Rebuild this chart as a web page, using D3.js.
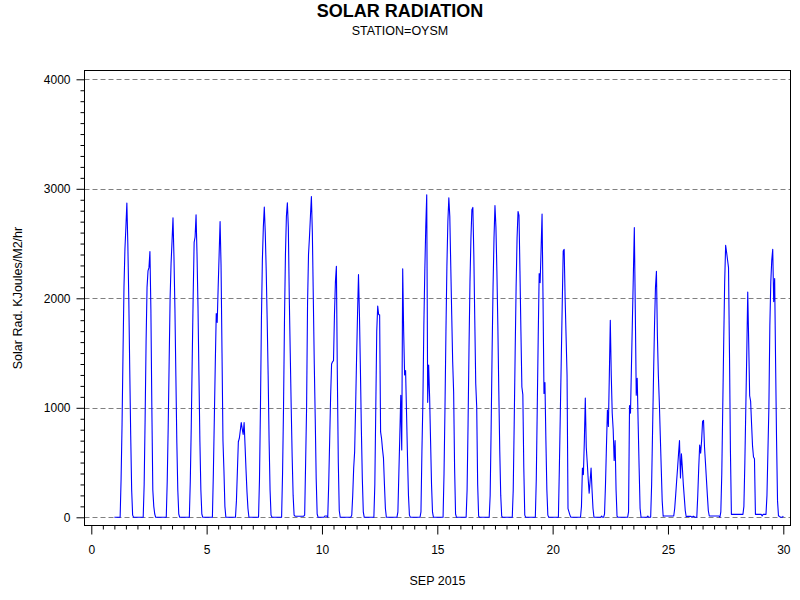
<!DOCTYPE html>
<html>
<head>
<meta charset="utf-8">
<script src="https://cdn.jsdelivr.net/npm/d3@7"></script>
<style>
  html, body { margin: 0; padding: 0; background: #fff; }
  svg { display: block; font-family: "Liberation Sans", Arial, sans-serif; }
</style>
</head>
<body>
<svg id="chart" width="800" height="600"></svg>
<script>
// ---- data (hourly values, hours 0..23 of each day; x = day + hour/24) ----
const dayNumbers = [1,2,3,4,5,6,7,8,9,10,11,12,13,14,15,16,17,18,19,20,21,22,23,24,25,26,27,28,29];
const hourlyRadiation = [
  [0,0,0,0,0,0,0,350,850,1500,2100,2450,2650,2870,2500,2000,1350,750,250,20,0,0,0,0],
  [0,0,0,0,0,0,0,300,900,1600,2100,2250,2280,2428,1900,1000,250,100,30,0,0,0,0,0],
  [0,0,0,0,0,0,0,330,820,1420,2000,2320,2520,2735,2380,1910,1290,680,250,30,0,0,0,0],
  [0,0,0,0,0,0,0,330,830,1440,2020,2510,2560,2763,2400,1930,1300,690,250,30,0,0,0,0],
  [0,0,0,0,0,0,0,400,900,1400,1860,1780,2100,2400,2702,2300,1500,700,430,100,0,0,0,0],
  [0,0,0,0,0,0,0,150,420,690,720,790,866,810,757,866,650,430,230,80,0,0,0,0],
  [0,0,0,0,0,0,0,350,1000,1800,2350,2650,2833,2600,2250,1800,1300,700,250,20,0,0,0,0],
  [0,0,0,0,0,0,0,400,1000,1800,2400,2750,2872,2650,2000,1500,1000,550,200,20,10,10,10,10],
  [10,10,10,10,10,10,20,500,1000,1950,2400,2560,2750,2930,2600,2000,1400,900,350,30,0,0,0,0],
  [0,0,0,12,12,12,0,300,700,1100,1400,1420,1430,1850,2150,2292,1300,500,60,0,0,0,0,0],
  [0,0,0,0,0,0,0,20,200,450,600,1000,1450,1850,2216,1850,1350,800,350,50,0,0,0,0],
  [0,0,0,0,0,0,0,300,1000,1700,1930,1850,1850,780,720,620,540,300,80,0,0,0,0,0],
  [0,0,0,0,0,0,0,50,400,750,1115,614,2270,1700,1300,1340,950,550,200,20,0,0,0,0],
  [0,0,0,0,0,0,0,50,600,1050,1750,2250,2650,2945,1050,1390,1100,700,300,50,0,0,0,0],
  [0,0,0,0,0,0,0,400,1000,1700,2300,2700,2918,2750,2300,1850,1420,1145,450,30,0,0,0,0],
  [0,0,0,0,0,0,0,250,850,1550,2150,2550,2810,2830,2400,1800,1220,1010,300,10,0,0,0,0],
  [0,0,0,0,0,0,0,200,800,1500,2100,2550,2848,2650,2250,1750,1150,600,200,10,0,0,0,0],
  [0,0,0,0,0,0,0,250,850,1500,2100,2550,2793,2757,2250,1700,1190,1120,450,20,0,0,0,0],
  [0,0,0,0,0,0,0,350,1000,1650,2225,2142,2450,2770,2000,1130,1230,700,250,20,0,0,0,0],
  [0,0,0,0,0,0,0,450,950,1450,1950,2432,2447,2000,1650,1300,80,50,20,0,0,0,0,0],
  [0,0,0,0,0,0,100,450,390,700,1090,640,500,350,220,330,450,250,80,0,0,0,0,0],
  [0,0,0,12,0,0,30,300,650,980,830,1300,1800,1300,950,800,520,700,250,10,0,0,0,0],
  [0,0,0,0,0,0,0,50,1020,950,1375,1800,2220,2645,1900,1115,1270,850,450,80,0,0,0,0],
  [0,0,0,12,0,0,0,300,800,1300,1750,2100,2246,1660,1300,1050,750,450,150,10,12,12,12,12],
  [12,12,12,12,12,12,12,80,200,330,450,580,700,360,580,450,300,180,60,5,8,8,8,8],
  [8,0,8,8,0,0,0,200,450,660,585,700,875,885,645,500,350,200,60,12,12,12,12,12],
  [12,12,12,12,12,12,0,50,400,1000,1600,2150,2483,2420,2350,2280,1500,600,27,27,27,27,27,27],
  [27,27,27,27,27,27,27,100,500,1000,1500,2058,1600,1110,1060,850,650,550,535,27,27,27,27,27],
  [27,27,12,27,27,27,27,200,600,1000,1750,2150,2350,2447,1970,2180,1400,700,150,12,10,0,0,0]
];
const lastPoint = { t: 30, v: 12 };
const yTickValues = [0, 1000, 2000, 3000, 4000];
const xTickValues = [0, 5, 10, 15, 20, 25, 30];
const titleText = "SOLAR RADIATION";
const subtitleText = "STATION=OYSM";
const xAxisLabel = "SEP 2015";
const yAxisLabel = "Solar Rad. KJoules/M2/hr";

// ---- build series ----
const series = [];
dayNumbers.forEach((d, i) => {
  hourlyRadiation[i].forEach((v, h) => series.push({ t: d + h / 24, v: v }));
});
series.push(lastPoint);

// ---- layout ----
const frame = { left: 84.5, right: 790.5, top: 70.5, bottom: 525.5 };
const svg = d3.select("#chart");

const x = d3.scaleLinear().domain([0, 30]).range([91.3, 783.3]);
const y = d3.scaleLinear().domain([0, 4000]).range([517.3, 79.3]);

// gridlines
svg.append("g").selectAll("line").data(yTickValues).join("line")
  .attr("x1", frame.left).attr("x2", frame.right)
  .attr("y1", d => Math.round(y(d)) + 0.5).attr("y2", d => Math.round(y(d)) + 0.5)
  .attr("stroke", "#808080").attr("stroke-width", 1)
  .attr("stroke-dasharray", "5,3");

// data line
const line = d3.line().x(d => x(d.t)).y(d => y(d.v));
svg.append("path").datum(series)
  .attr("d", line)
  .attr("fill", "none")
  .attr("stroke", "#0000ff")
  .attr("stroke-width", 1.1)
  .attr("stroke-linejoin", "round");

// frame
svg.append("rect")
  .attr("x", frame.left).attr("y", frame.top)
  .attr("width", frame.right - frame.left).attr("height", frame.bottom - frame.top)
  .attr("fill", "none").attr("stroke", "#000").attr("stroke-width", 1);

// y axis: minor ticks
const yMinor = d3.range(0, 4001, 100).filter(v => v % 1000 !== 0);
const yMinorAxis = svg.append("g").attr("transform", `translate(${frame.left},0)`)
  .call(d3.axisLeft(y).tickValues(yMinor).tickSize(4).tickFormat(""));
yMinorAxis.select(".domain").remove();
// y axis: major ticks
const yAxis = svg.append("g").attr("transform", `translate(${frame.left},0)`)
  .call(d3.axisLeft(y).tickValues(yTickValues).tickSize(8).tickPadding(6).tickFormat(d3.format("d")));
yAxis.select(".domain").remove();

// x axis: minor ticks
const xMinor = d3.range(0, 30.01, 0.5).filter(v => v % 5 !== 0);
const xMinorAxis = svg.append("g").attr("transform", `translate(0,${frame.bottom})`)
  .call(d3.axisBottom(x).tickValues(xMinor).tickSize(4).tickFormat(""));
xMinorAxis.select(".domain").remove();
const xAxis = svg.append("g").attr("transform", `translate(0,${frame.bottom})`)
  .call(d3.axisBottom(x).tickValues(xTickValues).tickSize(9).tickPadding(11).tickFormat(d3.format("d")));
xAxis.select(".domain").remove();

svg.selectAll(".tick line").attr("stroke", "#000");
svg.selectAll(".tick text")
  .attr("fill", "#000")
  .style("font-size", "12px")
  .style("font-family", "'Liberation Sans', Arial, sans-serif");

// titles
svg.append("text").attr("x", 400).attr("y", 17).attr("text-anchor", "middle")
  .style("font-size", "18px").style("font-weight", "bold").text(titleText);
svg.append("text").attr("x", 400).attr("y", 35).attr("text-anchor", "middle")
  .style("font-size", "12.5px").text(subtitleText);
svg.append("text").attr("x", (frame.left + frame.right) / 2).attr("y", 585).attr("text-anchor", "middle")
  .style("font-size", "12.5px").text(xAxisLabel);
svg.append("text")
  .attr("transform", `translate(22,${(frame.top + frame.bottom) / 2}) rotate(-90)`)
  .attr("text-anchor", "middle")
  .style("font-size", "12.5px").text(yAxisLabel);
</script>
</body>
</html>
